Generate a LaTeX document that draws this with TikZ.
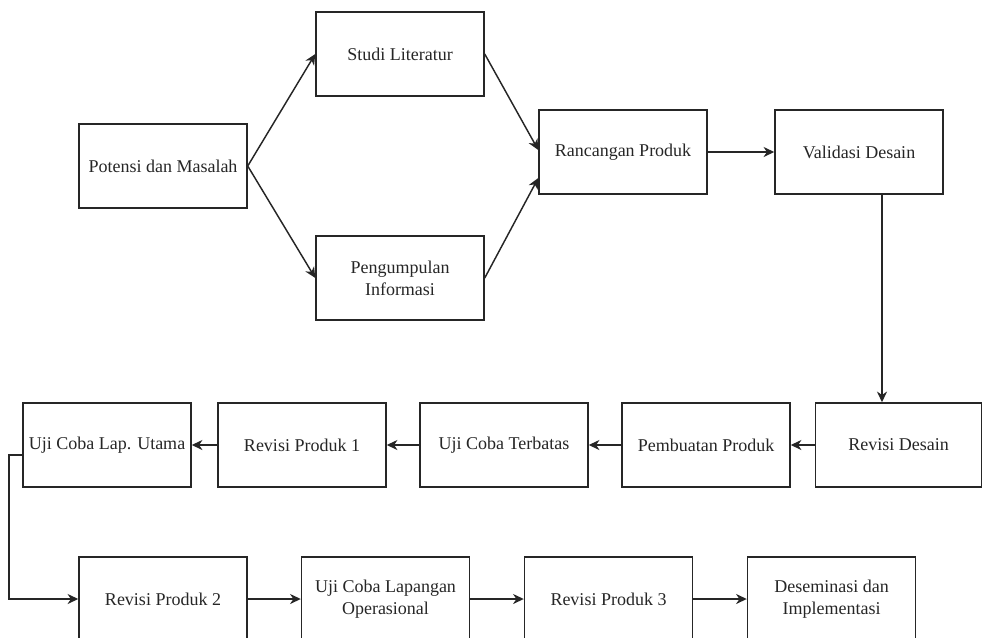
\documentclass[tikz,border=0pt]{standalone}
\usepackage{fontspec}
\setmainfont{Liberation Serif}
\usetikzlibrary{arrows.meta,calc}
\begin{document}
\begin{tikzpicture}[x=0.75pt,y=-0.75pt,
  stepbox/.style={draw=black!85,line width=1.1pt,rectangle,minimum width=126pt,minimum height=63pt,
    align=center,inner sep=2pt,font=\fontsize{13.5}{16.5}\selectfont,text=black!85},
  arr/.style={draw=black!85,line width=1.1pt,-{Stealth[length=8pt,width=7.5pt,inset=2.5pt]}}]
\useasboundingbox (0,0) rectangle (983,637);
\clip (0,0) rectangle (983,637);
% top part
\node[stepbox] (pm) at (163,166) {Potensi dan Masalah};
\node[stepbox] (sl) at (400,54) {Studi Literatur};
\node[stepbox] (pi) at (400,278) {Pengumpulan\\Informasi};
\node[stepbox] (rp) at (623,152) {Rancangan Produk};
\node[stepbox] (vd) at (859,152) {Validasi Desain};
% middle row
\node[stepbox,minimum width=124.5pt] (rd) at (898.5,445) {Revisi Desain};
\node[stepbox] (pp) at (706,445) {Pembuatan Produk};
\node[stepbox] (ut) at (504,445) {Uji Coba Terbatas};
\node[stepbox] (r1) at (302,445) {Revisi Produk 1};
\node[stepbox] (lu) at (107,445) {Uji Coba Lap. Utama};
% bottom row
\node[stepbox] (r2) at (163,599) {Revisi Produk 2};
\node[stepbox] (lo) at (385.5,599) {Uji Coba Lapangan\\Operasional};
\node[stepbox] (r3) at (608.5,599) {Revisi Produk 3};
\node[stepbox] (di) at (831.5,599) {Deseminasi dan\\Implementasi};
% connectors
\draw[arr] (pm.east) -- (sl.west);
\draw[arr] (pm.east) -- (pi.west);
\draw[arr] (sl.east) -- ($(rp.west)+(0,-2)$);
\draw[arr] (pi.east) -- ($(rp.west)+(0,26)$);
\draw[arr] (rp.east) -- (vd.west);
\coordinate (vdo) at ($(vd.south)+(23,0)$);
\draw[arr] (vdo) -- (vdo |- rd.north);
\draw[arr] (rd.west) -- (pp.east);
\draw[arr] (pp.west) -- (ut.east);
\draw[arr] (ut.west) -- (r1.east);
\draw[arr] (r1.west) -- (lu.east);
\coordinate (luo) at ($(lu.west)+(0,10)$);
\coordinate (bend) at (9,455);
\draw[arr] (luo) -- (bend) -- (bend |- r2.west) -- (r2.west);
\draw[arr] (r2.east) -- (lo.west);
\draw[arr] (lo.east) -- (r3.west);
\draw[arr] (r3.east) -- (di.west);
\end{tikzpicture}
\end{document}
